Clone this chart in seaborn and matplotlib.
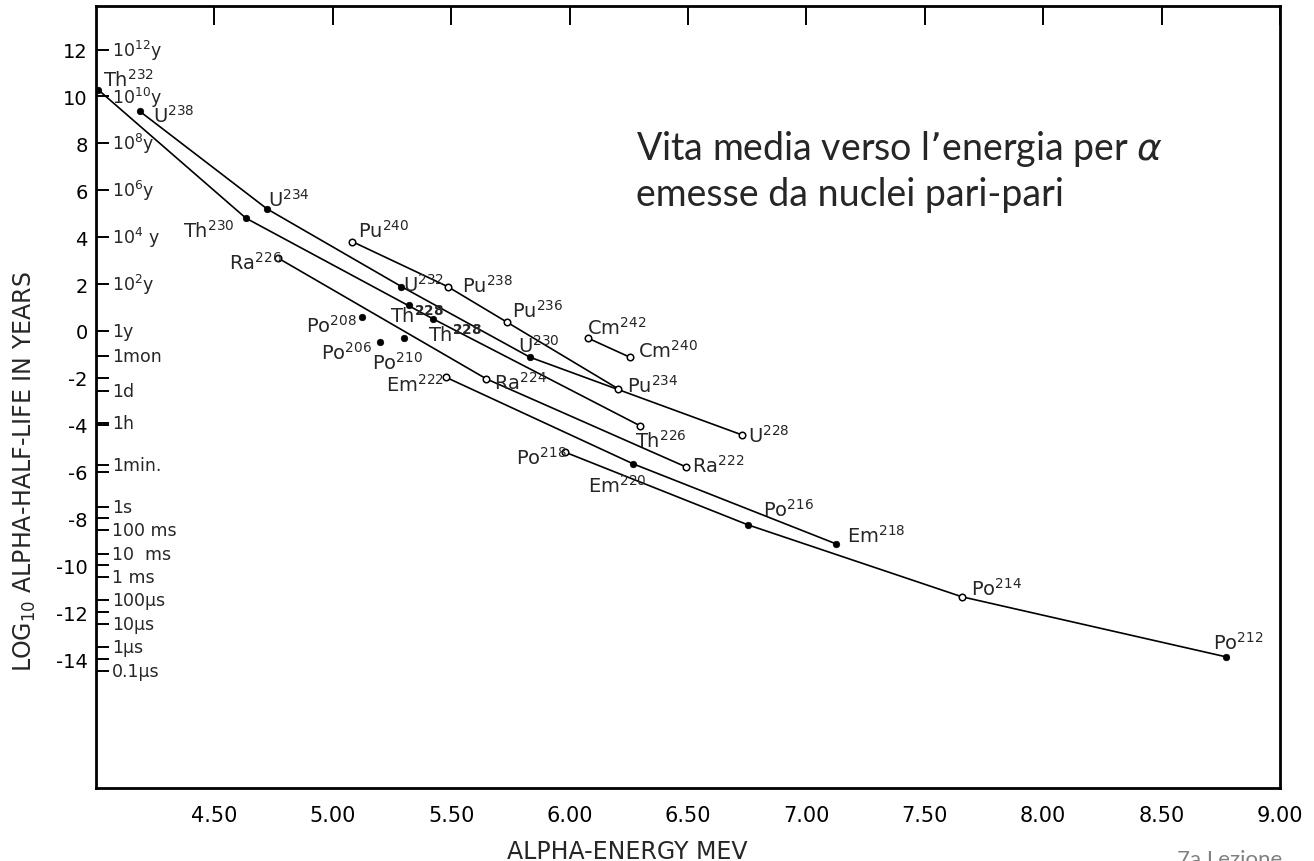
import pandas as pd
import seaborn as sns
import matplotlib.pyplot as plt

# alpha energy (MeV) and log10 half-life (years) per element chain
th_names = ["Th232", "Th230", "Th228", "Th226"]
th_energy = [4.01, 4.633, 5.424, 6.296]
th_loghl = [10.28, 4.81, 0.51, -4.04]

u_names = ["U238", "U234", "U232", "U230", "U228"]
u_energy = [4.186, 4.723, 5.290, 5.832, 6.726]
u_loghl = [9.36, 5.20, 1.89, -1.12, -4.43]

ra_names = ["Ra226", "Ra224", "Ra222"]
ra_energy = [4.770, 5.649, 6.493]
ra_loghl = [3.10, -2.05, -5.81]

pu_names = ["Pu240", "Pu238", "Pu236", "Pu234"]
pu_energy = [5.082, 5.485, 5.736, 6.205]
pu_loghl = [3.81, 1.89, 0.37, -2.47]

cm_names = ["Cm242", "Cm240"]
cm_energy = [6.078, 6.254]
cm_loghl = [-0.31, -1.12]

em_names = ["Em222", "Em220", "Em218"]
em_energy = [5.476, 6.268, 7.124]
em_loghl = [-1.97, -5.67, -9.08]

po_names = ["Po218", "Po216", "Po214", "Po212"]
po_energy = [5.980, 6.752, 7.656, 8.770]
po_loghl = [-5.17, -8.27, -11.34, -13.90]

# isolated points (no connecting line)
single_names = ["Th228b", "Po208", "Po206", "Po210"]
single_energy = [5.323, 5.124, 5.199, 5.300]
single_loghl = [1.11, 0.61, -0.46, -0.31]

x_ticks = [4.5, 5.0, 5.5, 6.0, 6.5, 7.0, 7.5, 8.0, 8.5, 9.0]
x_ticklabels = ["4.50", "5.00", "5.50", "6.00", "6.50", "7.00", "7.50", "8.00", "8.50", "9.00"]
y_ticks = [12, 10, 8, 6, 4, 2, 0, -2, -4, -6, -8, -10, -12, -14]
y_ticklabels = ["12", "10", "8", "6", "4", "2", "0", "-2", "-4", "-6", "-8", "-10", "-12", "-14"]

time_pos = [12, 10, 8, 6, 4, 2, 0, -1.08, -2.56, -3.94, -5.72, -7.50, -8.50,
            -9.50, -10.50, -11.50, -12.50, -13.50, -14.50]
time_labels = [r"10$^{12}$y", r"10$^{10}$y", r"10$^{8}$y", r"10$^{6}$y", r"10$^{4}$ y",
               r"10$^{2}$y", "1y", "1mon", "1d", "1h", "1min.", "1s", "100 ms",
               "10  ms", "1 ms", "100μs", "10μs", "1μs", "0.1μs"]

title_lines = ["Vita media verso l\u2019energia per $\\alpha$", "emesse da nuclei pari-pari"]

# marker style and label placement (pixels from point: dx, dy, ha)
OPEN = {"Ra226", "Pu240", "Pu238", "Pu236", "Cm242", "Cm240", "Pu234", "Em222",
        "Ra224", "Th226", "U228", "Ra222", "Po218", "Po214"}
LABEL_POS = {
    "Th232": (5, 4, "left"), "U238": (13, -10, "left"), "U234": (1, 3, "left"),
    "Th230": (-11, -19, "right"), "Ra226": (4, -11, "right"), "Pu240": (6, 5, "left"),
    "U232": (2, -4, "left"), "Pu238": (14, -5, "left"), "Th228b": (-19, -17, "left"),
    "Th228": (-5, -22, "left"), "Pu236": (5, 5, "left"), "Cm242": (-1, 4, "left"),
    "U230": (-12, 5, "left"), "Po208": (-5, -15, "right"), "Po206": (-8, -17, "right"),
    "Po210": (-32, -31, "left"), "Em222": (-1, -14, "right"), "Ra224": (8, -10, "left"),
    "Cm240": (8, 0, "left"), "Pu234": (9, -3, "left"), "U228": (6, -7, "left"),
    "Th226": (-5, -21, "left"), "Ra222": (6, -5, "left"), "Po218": (2, -12, "right"),
    "Em220": (-45, -28, "left"), "Po216": (15, 9, "left"), "Em218": (11, 2, "left"),
    "Po214": (9, 2, "left"), "Po212": (-13, 8, "left"),
}


def iso_label(name):
    el = "".join(c for c in name[:2] if c.isalpha())
    mass = "".join(c for c in name if c.isdigit())
    if name.startswith("Th228"):
        return el + r"$^{\mathbf{" + mass + "}}$"
    return el + "$^{" + mass + "}$"


chains = [("Th", th_names, th_energy, th_loghl), ("U", u_names, u_energy, u_loghl),
          ("Ra", ra_names, ra_energy, ra_loghl), ("Pu", pu_names, pu_energy, pu_loghl),
          ("Cm", cm_names, cm_energy, cm_loghl), ("Em", em_names, em_energy, em_loghl),
          ("Po", po_names, po_energy, po_loghl)]
rows = []
for chain, names, en, lh in chains:
    for n, e, l in zip(names, en, lh):
        rows.append({"chain": chain, "name": n, "energy": e, "loghl": l})
lines_df = pd.DataFrame(rows)
single_df = pd.DataFrame({"chain": "none", "name": single_names,
                          "energy": single_energy, "loghl": single_loghl})
pts = pd.concat([lines_df, single_df], ignore_index=True)
pts["open"] = pts["name"].isin(OPEN)

sns.set_theme(style="white")
plt.rcParams["font.family"] = ["DejaVu Sans"]
plt.rcParams["mathtext.fontset"] = "dejavusans"
plt.rcParams["axes.unicode_minus"] = False

fig = plt.figure(figsize=(13.14, 8.62), dpi=100)
ax = fig.add_axes([96 / 1314, 1 - 789 / 862, 1184 / 1314, 782 / 862])

sns.lineplot(data=lines_df, x="energy", y="loghl", units="chain", estimator=None,
             sort=False, color="black", lw=1.2, ax=ax)
sns.scatterplot(data=pts[~pts["open"]], x="energy", y="loghl", color="black",
                edgecolor="black", s=22, linewidth=0.5, zorder=3, ax=ax)
sns.scatterplot(data=pts[pts["open"]], x="energy", y="loghl", color="white",
                edgecolor="black", s=22, linewidth=1.1, zorder=3, ax=ax)

for _, r in pts.iterrows():
    dx, dy, ha = LABEL_POS[r["name"]]
    ax.annotate(iso_label(r["name"]), (r["energy"], r["loghl"]), xytext=(dx, dy),
                textcoords="offset pixels", ha=ha, va="baseline", fontsize=14)

ax.set_xlim(4.0, 9.0)
ax.set_ylim(-19.5, 13.86)
ax.set_xticks(x_ticks)
ax.set_xticklabels(x_ticklabels, fontsize=15)
ax.set_yticks(y_ticks)
ax.set_yticklabels(y_ticklabels, fontsize=14)
ax.set_yticks([p for p in time_pos if p not in y_ticks], minor=True)
ax.tick_params(axis="x", direction="in", length=14, width=1.4, top=True, pad=12, colors="black")
ax.tick_params(axis="y", which="both", direction="in", length=9, width=1.4,
               left=True, right=False, pad=6, colors="black")
ax.set_xlabel("")
ax.set_ylabel("")
for sp in ax.spines.values():
    sp.set_linewidth(2.0)
    sp.set_color("black")

for p, t in zip(time_pos, time_labels):
    ax.annotate(t, xy=(0, p), xycoords=("axes fraction", "data"), xytext=(16, 0),
                textcoords="offset pixels", ha="left", va="center", fontsize=12.5)

fig.text(25 / 1314, 1 - 472 / 862, r"LOG$_{10}$ ALPHA-HALF-LIFE IN YEARS", rotation=90,
         ha="center", va="center", fontsize=17)
fig.text(627 / 1314, 1 - 852 / 862, "ALPHA-ENERGY MEV", ha="center", va="center", fontsize=17)

for i, line in enumerate(title_lines):
    fig.text(636 / 1314, 1 - (160 + 46 * i) / 862, line, ha="left", va="baseline",
             fontsize=27, family=["Lato", "DejaVu Sans"])

fig.text(1177 / 1314, 1 - 850 / 862, "7a Lezione", ha="left", va="top", fontsize=16,
         color="#808080", family=["Lato", "DejaVu Sans"])

fig.savefig("out.png", dpi=100)
